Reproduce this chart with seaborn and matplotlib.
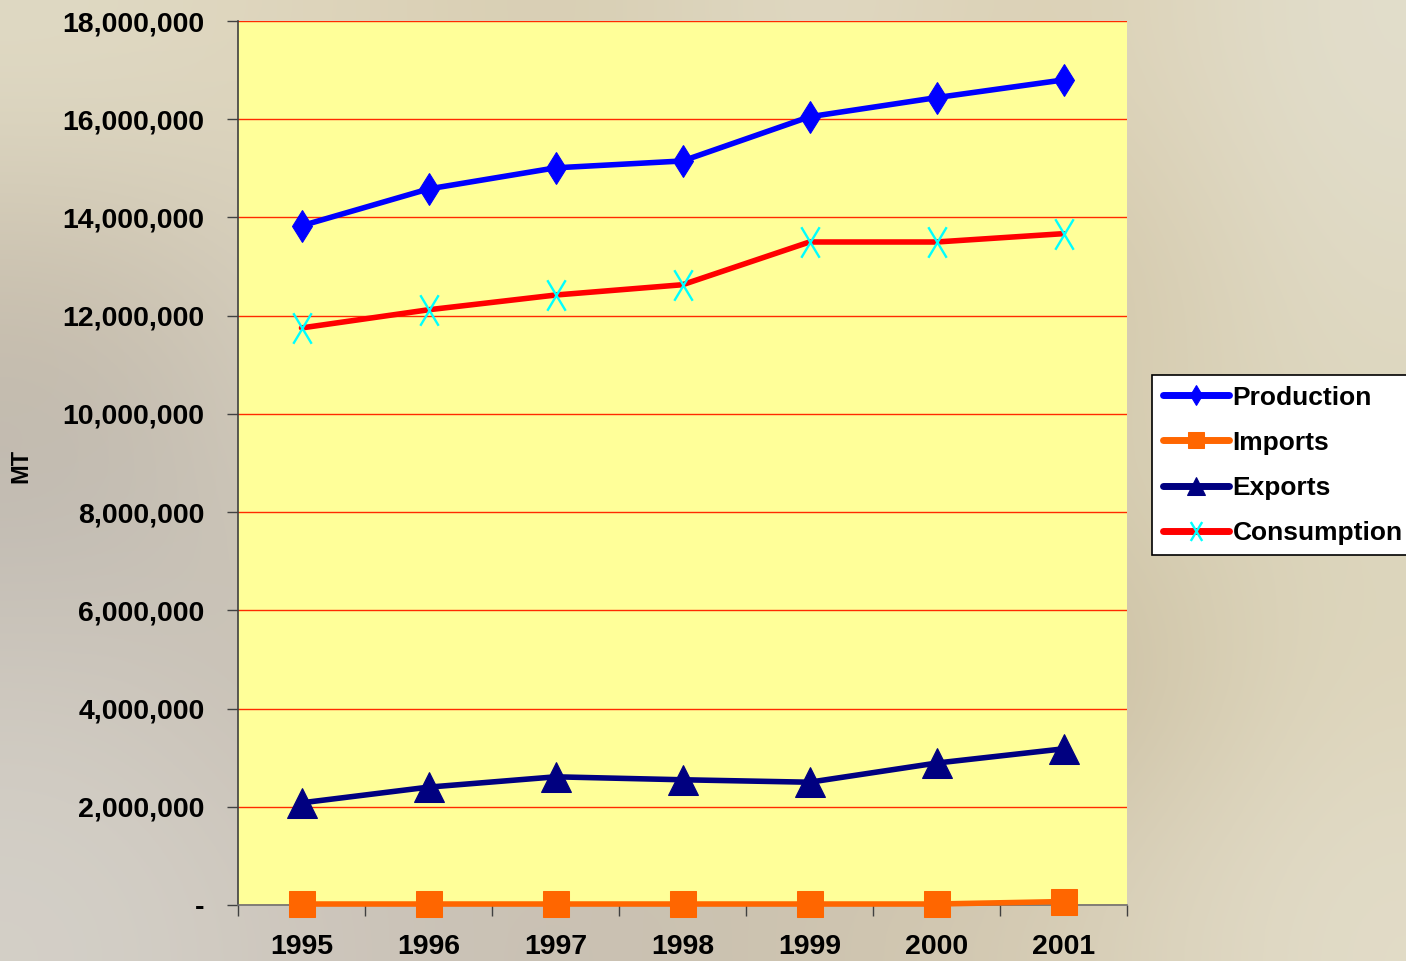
import numpy as np
import pandas as pd
import matplotlib
matplotlib.use('Agg')
import matplotlib.pyplot as plt
import seaborn as sns
from matplotlib.path import Path
from matplotlib.ticker import FuncFormatter, FixedLocator

# Data (metric tonnes)
years = ['1995', '1996', '1997', '1998', '1999', '2000', '2001']
production = [13830000, 14580000, 15010000, 15150000, 16050000, 16440000, 16800000]
imports = [20000, 20000, 20000, 20000, 20000, 20000, 70000]
exports = [2080000, 2400000, 2610000, 2550000, 2500000, 2890000, 3180000]
consumption = [11750000, 12120000, 12420000, 12630000, 13500000, 13500000, 13670000]

y_ticks = list(range(0, 18000001, 2000000))

# tall thin "x" marker like the Excel one
tall_x = Path([(-0.6, -1), (0.6, 1), (-0.6, 1), (0.6, -1)],
              [Path.MOVETO, Path.LINETO, Path.MOVETO, Path.LINETO])

series = [
    ('Production', production, dict(color='#0000ff', marker='d', markersize=16.5,
                                    markerfacecolor='#0000ff', markeredgecolor='#0000ff')),
    ('Imports', imports, dict(color='#ff6600', marker='s', markersize=19,
                              markerfacecolor='#ff6600', markeredgecolor='#ff6600')),
    ('Exports', exports, dict(color='#000080', marker='^', markersize=21,
                              markerfacecolor='#000080', markeredgecolor='#000080')),
    ('Consumption', consumption, dict(color='#ff0000', marker=tall_x, markersize=22,
                                      markeredgecolor='#00ffff', markeredgewidth=1.7)),
]

sns.set_theme(style='white')
plt.rcParams['font.family'] = ['Liberation Sans', 'DejaVu Sans']
plt.rcParams['font.weight'] = 'bold'
plt.rcParams['text.color'] = 'black'
plt.rcParams['xtick.color'] = 'black'
plt.rcParams['ytick.color'] = 'black'

fig = plt.figure(figsize=(14.06, 9.61), dpi=100)

# blurry beige backdrop (decorative)
bg = fig.add_axes([0, 0, 1, 1], zorder=-10)
bg_colors = np.array([
    [[224, 218, 196], [222, 212, 186], [214, 204, 176], [226, 220, 200], [218, 206, 176], [226, 222, 204]],
    [[200, 190, 172], [218, 212, 196], [220, 212, 186], [216, 206, 180], [206, 192, 160], [224, 218, 196]],
    [[190, 184, 176], [214, 206, 188], [222, 214, 190], [210, 198, 172], [214, 204, 176], [220, 214, 190]],
    [[206, 200, 190], [196, 188, 176], [214, 206, 186], [200, 188, 166], [196, 182, 150], [222, 214, 188]],
    [[212, 208, 200], [204, 196, 186], [200, 192, 178], [206, 196, 176], [214, 204, 180], [226, 220, 200]],
]) / 255.0
bg.imshow(bg_colors, aspect='auto', interpolation='bicubic', extent=[0, 1, 0, 1])
bg.set_axis_off()

ax = fig.add_axes([238 / 1406, 56 / 961, 889 / 1406, 884 / 961])
ax.set_facecolor('#ffff99')

for name, vals, style in series:
    df = pd.DataFrame({'Year': years, 'MT': vals})
    sns.lineplot(data=df, x='Year', y='MT', ax=ax, label=name, linewidth=4,
                 solid_capstyle='round', clip_on=False, zorder=3, **style)

ax.set_xlim(-0.5, 6.5)
ax.set_ylim(0, 18000000)

# gridlines in red
ax.yaxis.set_major_locator(FixedLocator(y_ticks))
ax.grid(axis='y', color='#ff2a00', linewidth=1.0)
ax.grid(axis='x', visible=False)
ax.set_axisbelow(True)

ax.yaxis.set_major_formatter(FuncFormatter(lambda v, p: '-' if v == 0 else f'{int(v):,}'))
ax.tick_params(axis='y', which='major', direction='out', length=8, width=1, color='#404040',
               pad=16, labelsize=20.5, left=True, labelcolor='black')
ax.set_xticks(range(len(years)))
ax.set_xticklabels(years)
ax.tick_params(axis='x', which='major', length=0, pad=21, labelsize=20.5, labelcolor='black')
ax.set_xticks(np.arange(-0.5, 7, 1), minor=True)
ax.tick_params(axis='x', which='minor', direction='out', length=8, width=1, color='#404040',
               bottom=True)
for lbl in ax.get_xticklabels() + ax.get_yticklabels():
    lbl.set_fontweight('bold')

ax.set_xlabel('')
ax.set_ylabel('')
for side in ['top', 'right']:
    ax.spines[side].set_visible(False)
ax.spines['left'].set_color('#404040')
ax.spines['bottom'].set_color('#707070')
ax.spines['left'].set_linewidth(1.2)
ax.spines['bottom'].set_linewidth(1.2)

fig.text(21 / 1406, 1 - 466 / 961, 'MT', rotation=90, ha='center', va='center',
         fontsize=17, fontweight='bold', color='black')

leg = ax.legend(loc='upper left', bbox_to_anchor=(1152 / 1406, 1 - 375 / 961),
                bbox_transform=fig.transFigure, borderaxespad=0, frameon=True,
                fancybox=False, shadow=False, handlelength=2.5,
                handletextpad=0.15, labelspacing=0.8, borderpad=0.4,
                prop={'weight': 'bold', 'size': 19})
leg.get_frame().set_edgecolor('black')
leg.get_frame().set_linewidth(1.2)
leg.get_frame().set_alpha(1)
for h in leg.legend_handles:
    h.set_markersize(h.get_markersize() * 0.62)
    h.set_linewidth(5)

fig.savefig('out.png', dpi=100)
